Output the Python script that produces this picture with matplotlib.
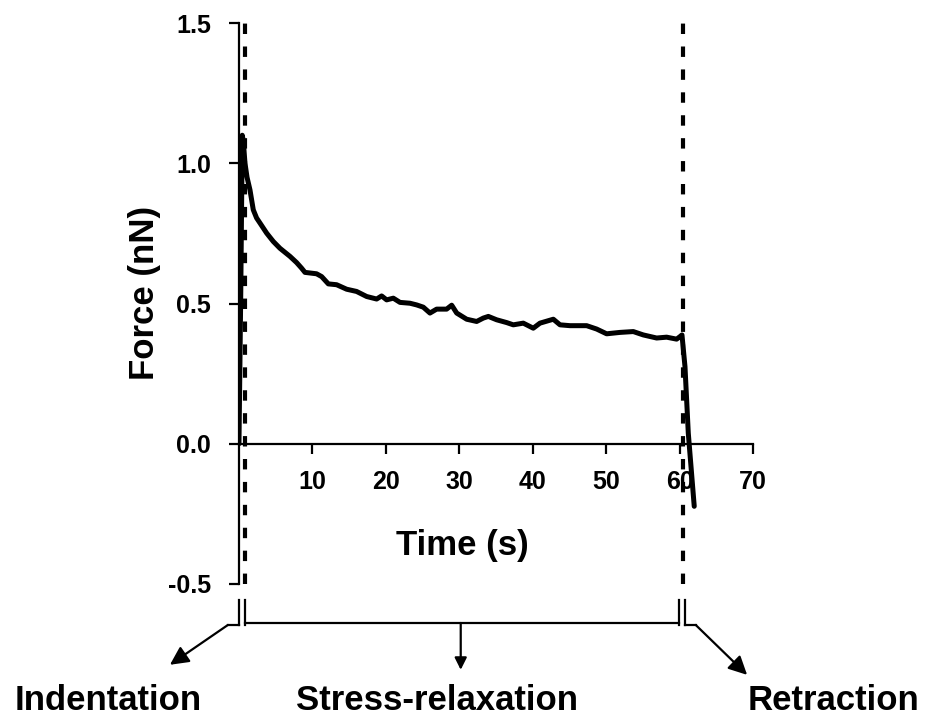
import numpy as np
import matplotlib.pyplot as plt
from matplotlib.transforms import blended_transform_factory

plt.rcParams['font.family'] = ['Liberation Sans', 'DejaVu Sans']
plt.rcParams['font.weight'] = 'bold'

# force trace (time in s, force in nN)
time_s = [0.0, 0.25, 0.45, 0.59, 0.82, 1.10, 1.50, 1.95, 2.40, 2.86, 3.77, 4.68,
          5.58, 6.95, 7.85, 8.53, 8.99, 10.57, 11.26, 12.17, 13.30, 14.66,
          16.02, 17.39, 18.75, 19.43, 20.11, 21.02, 21.93, 23.29, 24.20, 25.10,
          26.01, 26.92, 28.28, 28.97, 29.65, 31.01, 32.37, 33.27, 33.96, 35.09,
          36.46, 37.36, 38.72, 40.08, 40.99, 42.81, 43.72, 45.08, 47.35, 48.71,
          50.07, 51.89, 53.70, 55.06, 56.88, 58.24, 59.60, 60.06, 60.33, 60.74,
          61.19, 62.0]
force_nN = [0.0, 0.55, 1.10, 1.08, 1.00, 0.95, 0.905, 0.834, 0.805, 0.787,
            0.751, 0.721, 0.697, 0.668, 0.646, 0.626, 0.611, 0.606, 0.596,
            0.570, 0.567, 0.551, 0.543, 0.525, 0.516, 0.527, 0.513, 0.519,
            0.504, 0.501, 0.495, 0.487, 0.466, 0.480, 0.480, 0.494, 0.466,
            0.444, 0.436, 0.448, 0.454, 0.442, 0.432, 0.424, 0.430, 0.412,
            0.430, 0.444, 0.424, 0.421, 0.421, 0.409, 0.392, 0.397, 0.400,
            0.388, 0.377, 0.380, 0.373, 0.382, 0.388, 0.275, 0.038, -0.223]

# phase boundaries (s)
phase_lines = [0.82, 60.5]
phase_names = ['Indentation', 'Stress-relaxation', 'Retraction']

x_ticks = [10, 20, 30, 40, 50, 60, 70]
y_ticks = [-0.5, 0.0, 0.5, 1.0, 1.5]

fig = plt.figure(figsize=(9.28, 7.2), dpi=100)
ax = fig.add_axes([0.2575, 0.1889, 0.5539, 0.7791])

ax.plot(time_s, force_nN, color='black', lw=3.6, solid_joinstyle='round',
        solid_capstyle='round', zorder=3)

for t in phase_lines:
    ax.plot([t, t], [-0.5, 1.5], color='black', lw=3.0,
            linestyle=(0, (2.5, 3.0)), dash_capstyle='butt',
            clip_on=False, zorder=2)

ax.set_xlim(0, 70)
ax.set_ylim(-0.5, 1.5)
ax.spines['top'].set_visible(False)
ax.spines['right'].set_visible(False)
ax.spines['bottom'].set_position(('data', 0))
ax.spines['left'].set_linewidth(1.6)
ax.spines['bottom'].set_linewidth(1.6)
ax.set_xticks(x_ticks)
ax.set_yticks(y_ticks)
ax.set_yticklabels([f'{v:.1f}' for v in y_ticks])
ax.tick_params(axis='x', direction='out', length=7, width=1.6, pad=12, labelsize=18)
ax.tick_params(axis='y', direction='out', length=7, width=1.6, pad=13, labelsize=18)
for lab in ax.get_xticklabels() + ax.get_yticklabels():
    lab.set_fontweight('bold')

ax.set_xlabel('Time (s)', fontsize=25, fontweight='bold')
ax.xaxis.label.set_verticalalignment('center')
ax.xaxis.set_label_coords(0.434, 0.0695)
ax.set_ylabel('Force (nN)', fontsize=25, fontweight='bold')
ax.yaxis.label.set_verticalalignment('center')
ax.yaxis.set_label_coords(-0.183, 0.519)

# bracket under the plot marking the three phases
tr = blended_transform_factory(ax.transData, ax.transAxes)
y_top, y_bot, y_bar = -0.0285, -0.073, -0.0695
for t in [0.0, 0.82, 59.9, 60.8]:
    ax.plot([t, t], [y_top, y_bot], color='black', lw=1.6, transform=tr, clip_on=False)
ax.plot([0.82, 59.9], [y_bar, y_bar], color='black', lw=1.6, transform=tr, clip_on=False)
ax.plot([-1.5, 0.0], [y_bot, y_bot], color='black', lw=1.6, transform=tr, clip_on=False)
ax.plot([60.8, 62.2], [y_bot, y_bot], color='black', lw=1.6, transform=tr, clip_on=False)

arrow = dict(arrowstyle='-|>', color='black', lw=1.6, mutation_scale=28,
             shrinkA=0, shrinkB=0)
ax.annotate('', xy=(-9.4, -0.144), xytext=(-1.5, y_bot), xycoords=tr,
            textcoords=tr, arrowprops=arrow, annotation_clip=False)
ax.annotate('', xy=(30.2, -0.153), xytext=(30.2, y_bar), xycoords=tr,
            textcoords=tr, arrowprops=dict(arrow, mutation_scale=18),
            annotation_clip=False)
ax.annotate('', xy=(69.2, -0.162), xytext=(62.2, y_bot), xycoords=tr,
            textcoords=tr, arrowprops=arrow, annotation_clip=False)

for name, xpos in zip(phase_names, [108, 437, 834]):
    fig.text(xpos / 928, 1 - 701 / 720, name, ha='center', va='center',
             fontsize=25, fontweight='bold')

fig.savefig('out.png', dpi=100)
